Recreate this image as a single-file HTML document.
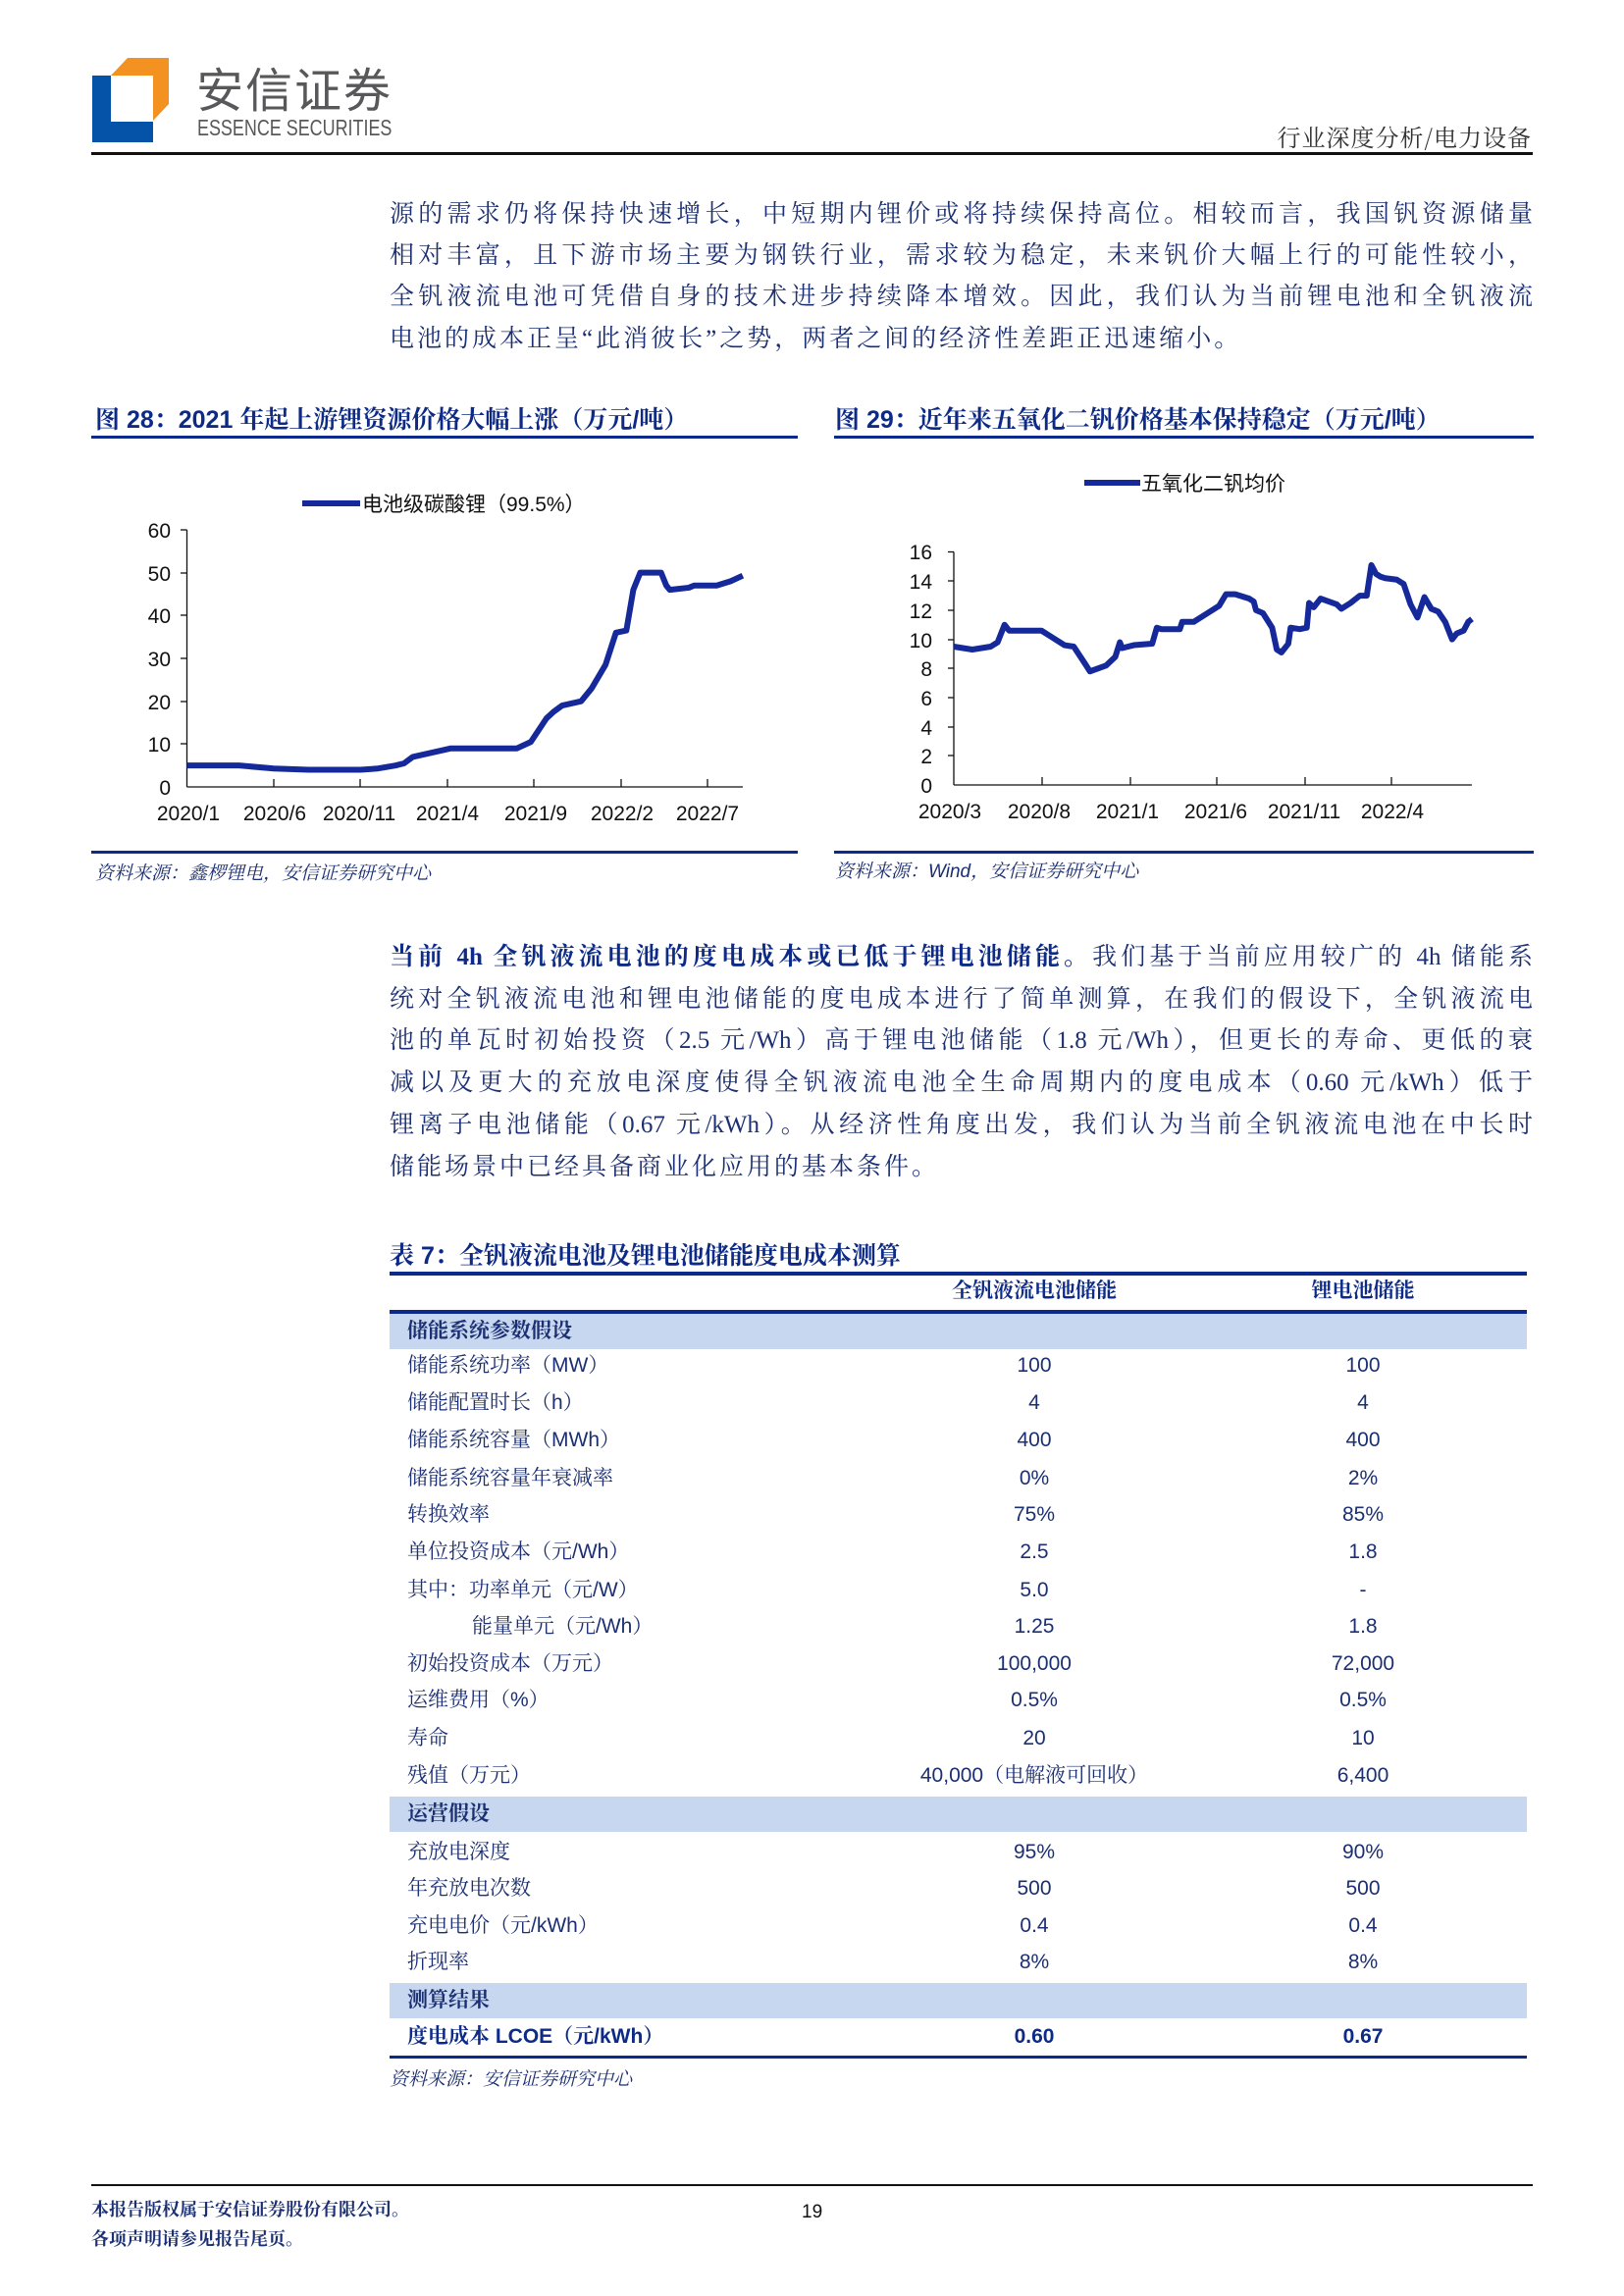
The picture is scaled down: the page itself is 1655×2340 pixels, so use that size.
<!DOCTYPE html>
<html><head><meta charset="utf-8"><style>
*{margin:0;padding:0;box-sizing:border-box}
body{width:1655px;height:2340px;background:#fff;position:relative;overflow:hidden;font-family:"Liberation Sans","Noto Serif CJK SC","Noto Sans CJK SC",sans-serif}
.a{position:absolute;white-space:nowrap}
.ln{position:absolute;left:397px;width:1165px;height:40px;line-height:40px;font-size:25px;color:#1b2f72;text-align:justify;text-align-last:justify;font-family:"Liberation Serif","Noto Serif CJK SC",serif;white-space:nowrap}
.ln.l{text-align-last:left}
.t{font-family:"Liberation Sans","Noto Serif CJK SC",serif;font-weight:bold;color:#0d2b86;font-size:25px}
.rule{position:absolute;background:#0b2a8c}
.row{position:absolute;left:397px;width:1159px;height:36px;line-height:36px;font-size:21px;color:#1b2f72;font-family:"Liberation Sans","Noto Serif CJK SC",sans-serif}
.row span{position:absolute}
.row .c1{left:557px;width:200px;text-align:center}
.row .c2{left:892px;width:200px;text-align:center}
.row .lb{left:18px}
.band{background:#c6d7ef;font-weight:bold}
</style></head><body>
<svg class="a" style="left:0;top:0" width="200" height="160">
<polygon points="94,77 113,77 113,124 156,124 156,145 94,145" fill="#0553a8"/>
<polygon points="130,59 172,59 172,106 156,123 156,77 113,77" fill="#f39220"/>
</svg>
<div class="a" style="left:200px;top:58px;font-size:48px;color:#58585a;font-family:'Noto Sans CJK SC',sans-serif;line-height:60px;letter-spacing:2px">安信证券</div>
<div class="a" style="left:201px;top:118px;font-size:23px;color:#58585a;line-height:24px;font-family:'Liberation Sans',sans-serif;transform:scaleX(0.78);transform-origin:0 0">ESSENCE SECURITIES</div>
<div class="a" style="right:94px;top:124px;font-size:24px;color:#333;line-height:30px;font-family:'Noto Serif CJK SC',serif;letter-spacing:1px">行业深度分析/电力设备</div>
<div class="a" style="left:93px;top:155px;width:1469px;height:3px;background:#111"></div>

<div class="ln" style="top:199px">源的需求仍将保持快速增长，中短期内锂价或将持续保持高位。相较而言，我国钒资源储量</div>
<div class="ln" style="top:241px">相对丰富，且下游市场主要为钢铁行业，需求较为稳定，未来钒价大幅上行的可能性较小，</div>
<div class="ln" style="top:283px">全钒液流电池可凭借自身的技术进步持续降本增效。因此，我们认为当前锂电池和全钒液流</div>
<div class="ln l" style="top:326px;letter-spacing:3px">电池的成本正呈“此消彼长”之势，两者之间的经济性差距正迅速缩小。</div>

<div class="a t" style="left:97px;top:410px;line-height:36px">图 28：2021 年起上游锂资源价格大幅上涨（万元/吨）</div>
<div class="rule" style="left:93px;top:444px;width:720px;height:3px"></div>
<div class="a t" style="left:851px;top:410px;line-height:36px">图 29：近年来五氧化二钒价格基本保持稳定（万元/吨）</div>
<div class="rule" style="left:850px;top:444px;width:713px;height:3px"></div>

<svg class="a" style="left:0;top:0" width="1655" height="900" font-family="Liberation Sans, Noto Sans CJK SC, sans-serif" font-size="21">
<line x1="308" y1="513" x2="367" y2="513" stroke="#15299a" stroke-width="6"/>
<text x="369" y="521" fill="#111">电池级碳酸锂（99.5%）</text>
<g stroke="#111" stroke-width="1.3">
<line x1="190.5" y1="540" x2="190.5" y2="802"/>
<line x1="190.5" y1="802" x2="757" y2="802"/>
<line x1="184" y1="540" x2="190.5" y2="540"/><line x1="184" y1="584" x2="190.5" y2="584"/><line x1="184" y1="627" x2="190.5" y2="627"/><line x1="184" y1="671" x2="190.5" y2="671"/><line x1="184" y1="715" x2="190.5" y2="715"/><line x1="184" y1="758" x2="190.5" y2="758"/>
<line x1="279" y1="802" x2="279" y2="794"/><line x1="367" y1="802" x2="367" y2="794"/><line x1="456" y1="802" x2="456" y2="794"/><line x1="544" y1="802" x2="544" y2="794"/><line x1="633" y1="802" x2="633" y2="794"/><line x1="721" y1="802" x2="721" y2="794"/>
</g>
<g fill="#111" text-anchor="end">
<text x="174" y="548">60</text><text x="174" y="592">50</text><text x="174" y="635">40</text><text x="174" y="679">30</text><text x="174" y="723">20</text><text x="174" y="766">10</text><text x="174" y="810">0</text>
</g>
<g fill="#111" text-anchor="middle">
<text x="192" y="836">2020/1</text><text x="280" y="836">2020/6</text><text x="366" y="836">2020/11</text><text x="456" y="836">2021/4</text><text x="546" y="836">2021/9</text><text x="634" y="836">2022/2</text><text x="721" y="836">2022/7</text>
</g>
<polyline transform="matrix(17.7 0 0 -4.367 190.5 802)" vector-effect="non-scaling-stroke" fill="none" stroke="#15299a" stroke-width="6" stroke-linejoin="round"
points="0,5 3,5 5,4.3 7,4 10,4 11,4.3 12,5 12.5,5.5 13,7 14.1,8 15.2,9 19,9 19.8,10.5 20.7,16 21.1,17.5 21.6,19 22.7,20 23.3,23 24.1,28.5 24.7,36 25.3,36.5 25.7,46 26.1,50 27.3,50 27.6,47 27.8,46 28.9,46.5 29.2,47 30.5,47 31.3,48 32,49.3"/>
<line x1="1105" y1="492" x2="1162" y2="492" stroke="#15299a" stroke-width="6"/>
<text x="1163" y="500" fill="#111">五氧化二钒均价</text>
<g stroke="#111" stroke-width="1.3">
<line x1="972" y1="562.5" x2="972" y2="800"/>
<line x1="972" y1="800" x2="1500" y2="800"/>
<line x1="966" y1="562.5" x2="972" y2="562.5"/><line x1="966" y1="592" x2="972" y2="592"/><line x1="966" y1="622" x2="972" y2="622"/><line x1="966" y1="652" x2="972" y2="652"/><line x1="966" y1="681" x2="972" y2="681"/><line x1="966" y1="711" x2="972" y2="711"/><line x1="966" y1="741" x2="972" y2="741"/><line x1="966" y1="770" x2="972" y2="770"/>
<line x1="1062" y1="800" x2="1062" y2="792"/><line x1="1152" y1="800" x2="1152" y2="792"/><line x1="1240" y1="800" x2="1240" y2="792"/><line x1="1330" y1="800" x2="1330" y2="792"/><line x1="1418" y1="800" x2="1418" y2="792"/>
</g>
<g fill="#111" text-anchor="end">
<text x="950" y="570">16</text><text x="950" y="600">14</text><text x="950" y="630">12</text><text x="950" y="660">10</text><text x="950" y="689">8</text><text x="950" y="719">6</text><text x="950" y="749">4</text><text x="950" y="778">2</text><text x="950" y="808">0</text>
</g>
<g fill="#111" text-anchor="middle">
<text x="968" y="834">2020/3</text><text x="1059" y="834">2020/8</text><text x="1149" y="834">2021/1</text><text x="1239" y="834">2021/6</text><text x="1329" y="834">2021/11</text><text x="1419" y="834">2022/4</text>
</g>
<polyline transform="matrix(0.4702 0 0 -14.84 854.45 800)" vector-effect="non-scaling-stroke" fill="none" stroke="#15299a" stroke-width="6" stroke-linejoin="round"
points="250,9.5 290,9.3 330,9.5 345,9.8 360,11 370,10.6 440,10.6 460,10.2 490,9.6 510,9.5 535,8.3 545,7.8 580,8.2 600,8.8 610,9.8 615,9.4 640,9.6 680,9.7 690,10.8 700,10.7 740,10.7 745,11.2 770,11.2 800,11.8 825,12.3 840,13.1 860,13.1 890,12.8 900,12.6 905,12 920,11.8 940,10.8 950,9.3 960,9.1 975,9.7 980,10.8 1000,10.7 1015,10.8 1020,12.5 1030,12.2 1045,12.8 1080,12.4 1090,12.1 1110,12.5 1130,13 1145,13 1155,15.1 1165,14.5 1175,14.3 1185,14.2 1210,14.1 1225,13.8 1240,12.4 1255,11.5 1270,12.9 1285,12.1 1300,11.9 1315,11.2 1330,10 1340,10.4 1355,10.6 1365,11.2 1373,11.4"/>
</svg>

<div class="rule" style="left:93px;top:867px;width:720px;height:3px"></div>
<div class="rule" style="left:850px;top:867px;width:713px;height:3px"></div>
<div class="a" style="left:97px;top:876px;font-size:19px;font-style:italic;color:#1b2f72;line-height:26px;font-family:'Noto Serif CJK SC',serif">资料来源：鑫椤锂电，安信证券研究中心</div>
<div class="a" style="left:851px;top:876px;font-size:19px;font-style:italic;color:#1b2f72;line-height:26px;font-family:'Liberation Sans','Noto Serif CJK SC',serif">资料来源：Wind，安信证券研究中心</div>

<div class="ln" style="top:956px"><b style="color:#0d2b86">当前 4h 全钒液流电池的度电成本或已低于锂电池储能。</b>我们基于当前应用较广的 4h 储能系</div>
<div class="ln" style="top:999px">统对全钒液流电池和锂电池储能的度电成本进行了简单测算，在我们的假设下，全钒液流电</div>
<div class="ln" style="top:1041px">池的单瓦时初始投资（2.5 元/Wh）高于锂电池储能（1.8 元/Wh），但更长的寿命、更低的衰</div>
<div class="ln" style="top:1084px">减以及更大的充放电深度使得全钒液流电池全生命周期内的度电成本（0.60 元/kWh）低于</div>
<div class="ln" style="top:1127px">锂离子电池储能（0.67 元/kWh）。从经济性角度出发，我们认为当前全钒液流电池在中长时</div>
<div class="ln l" style="top:1170px;letter-spacing:3px">储能场景中已经具备商业化应用的基本条件。</div>

<div class="a t" style="left:397px;top:1262px;line-height:36px">表 7：全钒液流电池及锂电池储能度电成本测算</div>
<div class="rule" style="left:397px;top:1296px;width:1159px;height:4px"></div>
<div class="row" style="top:1298px;font-weight:bold;color:#0d2b86"><span class="c1">全钒液流电池储能</span><span class="c2">锂电池储能</span></div>
<div class="rule" style="left:397px;top:1335px;width:1159px;height:4px"></div>
<div class="row band" style="top:1339px"><span class="lb">储能系统参数假设</span></div>
<div class="row" style="top:1374px"><span class="lb">储能系统功率（MW）</span><span class="c1">100</span><span class="c2">100</span></div>
<div class="row" style="top:1412px"><span class="lb">储能配置时长（h）</span><span class="c1">4</span><span class="c2">4</span></div>
<div class="row" style="top:1450px"><span class="lb">储能系统容量（MWh）</span><span class="c1">400</span><span class="c2">400</span></div>
<div class="row" style="top:1489px"><span class="lb">储能系统容量年衰减率</span><span class="c1">0%</span><span class="c2">2%</span></div>
<div class="row" style="top:1526px"><span class="lb">转换效率</span><span class="c1">75%</span><span class="c2">85%</span></div>
<div class="row" style="top:1564px"><span class="lb">单位投资成本（元/Wh）</span><span class="c1">2.5</span><span class="c2">1.8</span></div>
<div class="row" style="top:1603px"><span class="lb">其中：功率单元（元/W）</span><span class="c1">5.0</span><span class="c2">-</span></div>
<div class="row" style="top:1640px"><span class="lb" style="left:84px">能量单元（元/Wh）</span><span class="c1">1.25</span><span class="c2">1.8</span></div>
<div class="row" style="top:1678px"><span class="lb">初始投资成本（万元）</span><span class="c1">100,000</span><span class="c2">72,000</span></div>
<div class="row" style="top:1715px"><span class="lb">运维费用（%）</span><span class="c1">0.5%</span><span class="c2">0.5%</span></div>
<div class="row" style="top:1754px"><span class="lb">寿命</span><span class="c1">20</span><span class="c2">10</span></div>
<div class="row" style="top:1792px"><span class="lb">残值（万元）</span><span class="c1" style="left:497px;width:320px">40,000（电解液可回收）</span><span class="c2">6,400</span></div>
<div class="row band" style="top:1831px"><span class="lb">运营假设</span></div>
<div class="row" style="top:1870px"><span class="lb">充放电深度</span><span class="c1">95%</span><span class="c2">90%</span></div>
<div class="row" style="top:1907px"><span class="lb">年充放电次数</span><span class="c1">500</span><span class="c2">500</span></div>
<div class="row" style="top:1945px"><span class="lb">充电电价（元/kWh）</span><span class="c1">0.4</span><span class="c2">0.4</span></div>
<div class="row" style="top:1982px"><span class="lb">折现率</span><span class="c1">8%</span><span class="c2">8%</span></div>
<div class="row band" style="top:2021px"><span class="lb">测算结果</span></div>
<div class="row" style="top:2058px;font-weight:bold;color:#0d2b86"><span class="lb">度电成本 LCOE（元/kWh）</span><span class="c1">0.60</span><span class="c2">0.67</span></div>
<div class="rule" style="left:397px;top:2095px;width:1159px;height:3px"></div>
<div class="a" style="left:397px;top:2105px;font-size:19px;font-style:italic;color:#1b2f72;line-height:26px;font-family:'Noto Serif CJK SC',serif">资料来源：安信证券研究中心</div>

<div class="a" style="left:93px;top:2226px;width:1469px;height:2px;background:#111"></div>
<div class="a" style="left:93px;top:2238px;font-size:18px;font-weight:bold;color:#1b2f72;line-height:26px;font-family:'Noto Serif CJK SC',serif">本报告版权属于安信证券股份有限公司。</div>
<div class="a" style="left:93px;top:2268px;font-size:18px;font-weight:bold;color:#1b2f72;line-height:26px;font-family:'Noto Serif CJK SC',serif">各项声明请参见报告尾页。</div>
<div class="a" style="left:817px;top:2242px;font-size:19px;color:#111;line-height:26px">19</div>
</body></html>
